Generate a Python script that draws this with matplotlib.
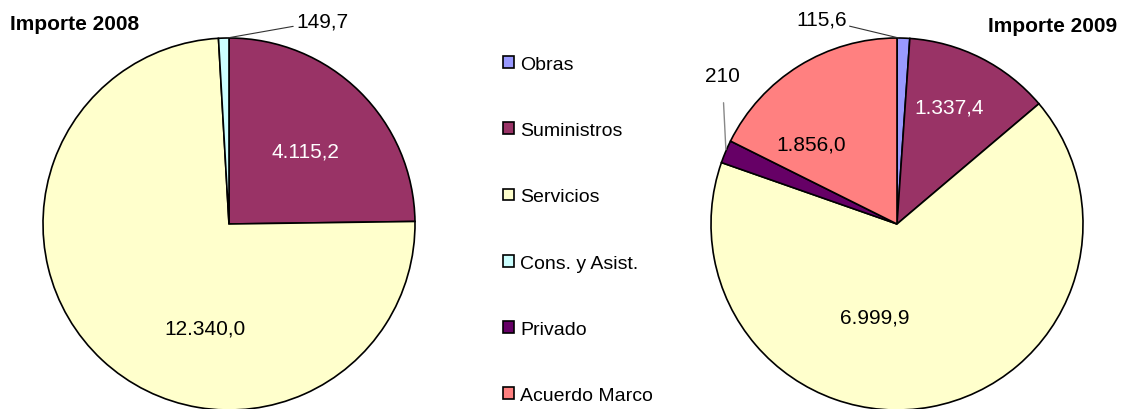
import matplotlib
matplotlib.use("Agg")
import matplotlib.pyplot as plt
from matplotlib.patches import Patch

plt.rcParams['font.family'] = ['Liberation Sans', 'DejaVu Sans']

categories = ["Obras", "Suministros", "Servicios", "Cons. y Asist.", "Privado", "Acuerdo Marco"]
values_2008 = [0.0, 4115.2, 12340.0, 149.7, 0.0, 0.0]
values_2009 = [115.6, 1337.4, 6999.9, 0.0, 210.0, 1856.0]
labels_2008 = ["", "4.115,2", "12.340,0", "149,7", "", ""]
labels_2009 = ["115,6", "1.337,4", "6.999,9", "", "210", "1.856,0"]
colors = ["#9999FF", "#993366", "#FFFFCC", "#CCFFFF", "#660066", "#FF8080"]
label_colors = ["black", "white", "black", "black", "white", "black"]

W, H = 1121, 410
fig = plt.figure(figsize=(W / 100, H / 100), dpi=100)

R = 186
FS = 15


def pie_axes(cx, cy):
    return fig.add_axes([(cx - R) / W, (H - cy - R) / H, 2 * R / W, 2 * R / H])


def draw_pie(ax, values, labels, inside_pos, outside):
    idx = [i for i, v in enumerate(values) if v > 0]
    ax.pie([values[i] for i in idx], colors=[colors[i] for i in idx],
           startangle=90, counterclock=False, radius=1,
           wedgeprops=dict(edgecolor="black", linewidth=1.2))
    ax.set_xlim(-1, 1)
    ax.set_ylim(-1, 1)
    ax.set_aspect("equal")
    ax.axis("off")
    for i, pos in inside_pos.items():
        ax.text(pos[0], pos[1], labels[i], ha="center", va="center",
                fontsize=FS, color=label_colors[i])
    for i, (xy, xytext, ha) in outside.items():
        ax.annotate(labels[i], xy=xy, xytext=xytext, ha=ha, va="center",
                    fontsize=FS, color="black",
                    arrowprops=dict(arrowstyle="-", color="#333333", lw=0.8,
                                    shrinkA=0, shrinkB=0),
                    annotation_clip=False)


ax1 = pie_axes(229, 225)
draw_pie(ax1, values_2008, labels_2008,
         {1: (0.41, 0.39), 2: (-0.13, -0.56)},
         {3: ((-0.01, 1.0), (0.36, 1.09), "left")})

ax2 = pie_axes(897, 225)
draw_pie(ax2, values_2009, labels_2009,
         {1: (0.28, 0.63), 2: (-0.12, -0.50), 5: (-0.46, 0.43)},
         {0: ((0.01, 1.0), (-0.27, 1.10), "right")})
ax2.annotate(labels_2009[4], xy=(-0.92, 0.40), xytext=(-0.94, 0.80),
             ha="center", va="center", fontsize=FS, color="black",
             arrowprops=dict(arrowstyle="-", color="#888888", lw=1.0,
                             shrinkA=11, shrinkB=0),
             annotation_clip=False)

fig.text(10 / W, 1 - 25 / H, "Importe 2008", fontsize=15, fontweight="bold",
         ha="left", va="center")
fig.text(1117 / W, 1 - 27 / H, "Importe 2009", fontsize=15, fontweight="bold",
         ha="right", va="center")

handles = [Patch(facecolor=c, edgecolor="black", linewidth=1.2) for c in colors]
fig.legend(handles, categories, loc="upper left",
           bbox_to_anchor=(503 / W, 1 - 57 / H), frameon=False,
           fontsize=14, handlelength=0.55, handleheight=0.55,
           handletextpad=0.35, labelspacing=2.53, borderaxespad=0,
           borderpad=0)

fig.savefig("out.png", dpi=100)
